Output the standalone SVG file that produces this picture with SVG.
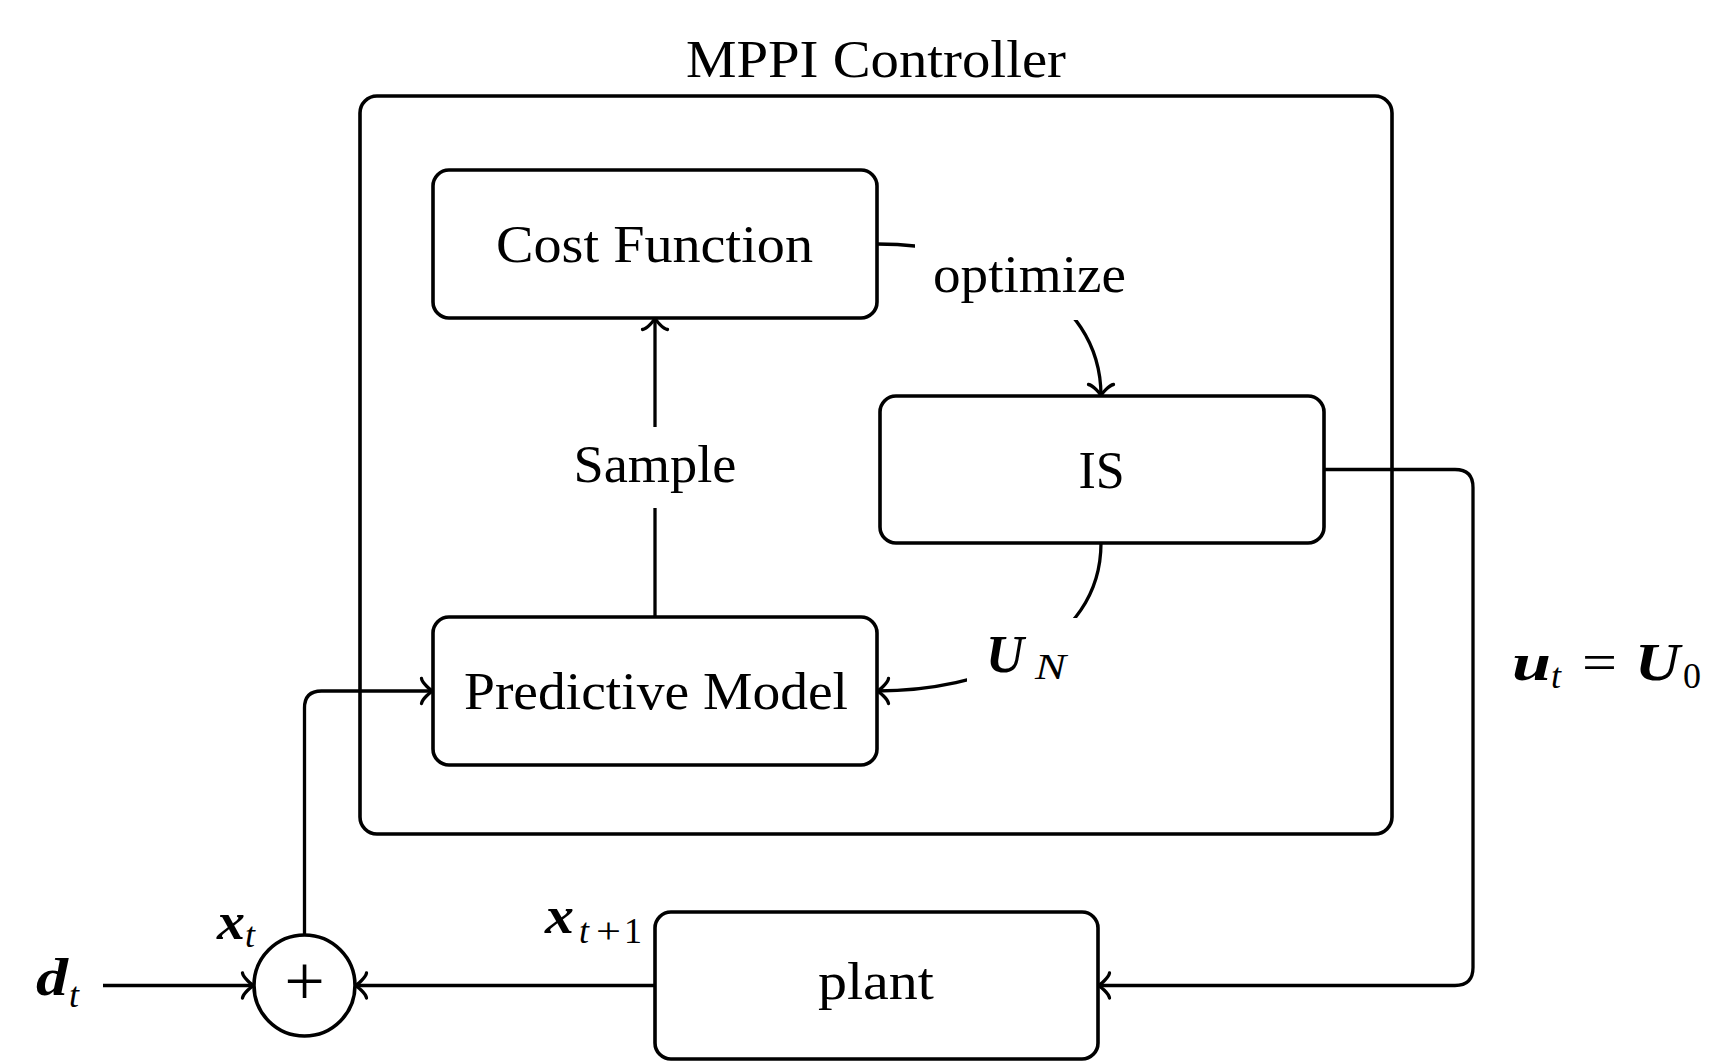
<svg xmlns="http://www.w3.org/2000/svg" width="1711" height="1061" viewBox="0 0 1711 1061">
  <style>
    text { font-family: "Liberation Serif", "Times New Roman", serif; fill: #000; }
    .lbl { font-size: 52px; }
    .bm { font-size: 52px; font-style: italic; font-weight: bold; }
    .sub { font-size: 36px; font-style: italic; }
    .subr { font-size: 36px; }
    .box { fill: #fff; stroke: #000; stroke-width: 3.6; }
    .wire { fill: none; stroke: #000; stroke-width: 3.3; }
    .bg { fill: #fff; stroke: none; }
  </style>
  <defs>
    <!-- open curved "to" arrowhead, tip at the path end -->
    <marker id="to" markerUnits="userSpaceOnUse" orient="auto" refX="0" refY="0" overflow="visible">
      <path d="M -11.5,-12.5 C -10.7,-7.8 -2.3,-0.8 0,0 C -2.3,0.8 -10.7,7.8 -11.5,12.5" fill="none" stroke="#000" stroke-width="3.3" stroke-linecap="round" stroke-linejoin="round"/>
    </marker>
  </defs>

  <rect width="1711" height="1061" fill="#fff"/>

  <!-- controller frame -->
  <g id="controller">
    <rect class="box" x="360" y="96" width="1032" height="738" rx="17"/>
    <text class="lbl" x="876" y="77" text-anchor="middle" textLength="380" lengthAdjust="spacingAndGlyphs">MPPI Controller</text>
  </g>

  <!-- connectors -->
  <g id="connectors">
    <!-- Sample: predictive model -> cost function -->
    <path class="wire" d="M 655 617 L 655 318" marker-end="url(#to)"/>
    <!-- optimize: cost function -> IS -->
    <path class="wire" d="M 877 244 C 983 244 1101 290 1101 396" marker-end="url(#to)"/>
    <!-- U_N: IS -> predictive model -->
    <path class="wire" d="M 1101 543 C 1101 648 981 691 877 691" marker-end="url(#to)"/>
    <!-- state into predictive model -->
    <path class="wire" d="M 304.5 935 L 304.5 708 Q 304.5 691 321.5 691 L 433 691" marker-end="url(#to)"/>
    <!-- disturbance into summing junction -->
    <path class="wire" d="M 103 985.5 L 254 985.5" marker-end="url(#to)"/>
    <!-- plant output into summing junction -->
    <path class="wire" d="M 655 985.5 L 355 985.5" marker-end="url(#to)"/>
    <!-- control output: IS -> plant -->
    <path class="wire" d="M 1324 469.5 L 1455 469.5 Q 1473 469.5 1473 487.5 L 1473 967.5 Q 1473 985.5 1455 985.5 L 1098 985.5" marker-end="url(#to)"/>

    <!-- edge labels -->
    <g id="label-optimize">
      <rect class="bg" x="915" y="240" width="230" height="80"/>
      <text class="lbl" x="1029.5" y="292" text-anchor="middle" textLength="193" lengthAdjust="spacingAndGlyphs">optimize</text>
    </g>
    <g id="label-sample">
      <rect class="bg" x="553" y="427" width="204" height="81"/>
      <text class="lbl" x="655" y="482" text-anchor="middle" textLength="163" lengthAdjust="spacingAndGlyphs">Sample</text>
    </g>
    <g id="label-UN">
      <rect class="bg" x="967" y="618" width="123" height="78"/>
      <text><tspan class="bm" x="986" y="672" textLength="38" lengthAdjust="spacingAndGlyphs">U</tspan><tspan class="sub" x="1035" y="679" textLength="31" lengthAdjust="spacingAndGlyphs">N</tspan></text>
    </g>
    <g id="label-ut">
      <text><tspan class="bm" x="1512" y="680" textLength="39" lengthAdjust="spacingAndGlyphs">u</tspan><tspan class="sub" x="1551" y="688">t</tspan><tspan class="lbl" x="1582" y="680" textLength="35" lengthAdjust="spacingAndGlyphs">=</tspan><tspan class="bm" x="1635" y="680" textLength="45" lengthAdjust="spacingAndGlyphs">U</tspan><tspan class="subr" x="1683" y="688">0</tspan></text>
    </g>
    <g id="label-xt">
      <text><tspan class="bm" x="217" y="939" textLength="28" lengthAdjust="spacingAndGlyphs">x</tspan><tspan class="sub" x="245" y="947">t</tspan></text>
    </g>
    <g id="label-xt1">
      <text><tspan class="bm" x="545" y="933" textLength="29" lengthAdjust="spacingAndGlyphs">x</tspan><tspan class="sub" x="579" y="943">t</tspan><tspan class="subr" x="596" y="943" textLength="25" lengthAdjust="spacingAndGlyphs">+</tspan><tspan class="subr" x="624" y="943">1</tspan></text>
    </g>
    <g id="label-dt">
      <text><tspan class="bm" x="36" y="995" textLength="32" lengthAdjust="spacingAndGlyphs">d</tspan><tspan class="sub" x="69" y="1007">t</tspan></text>
    </g>
  </g>

  <!-- nodes -->
  <g id="cost-function">
    <rect class="box" x="433" y="170" width="444" height="148" rx="16"/>
    <text class="lbl" x="654.5" y="262" text-anchor="middle" textLength="317" lengthAdjust="spacingAndGlyphs">Cost Function</text>
  </g>
  <g id="is">
    <rect class="box" x="880" y="396" width="444" height="147" rx="16"/>
    <text class="lbl" x="1101.5" y="488" text-anchor="middle">IS</text>
  </g>
  <g id="predictive-model">
    <rect class="box" x="433" y="617" width="444" height="148" rx="16"/>
    <text class="lbl" x="656" y="709" text-anchor="middle" textLength="384" lengthAdjust="spacingAndGlyphs">Predictive Model</text>
  </g>
  <g id="plant">
    <rect class="box" x="655" y="912" width="443" height="147" rx="16"/>
    <text class="lbl" x="876" y="999" text-anchor="middle" textLength="116" lengthAdjust="spacingAndGlyphs">plant</text>
  </g>
  <g id="sum">
    <circle class="box" cx="304.5" cy="985.5" r="50.5" stroke-width="3.3"/>
    <text x="304.5" y="1005" text-anchor="middle" font-size="72">+</text>
  </g>
</svg>
